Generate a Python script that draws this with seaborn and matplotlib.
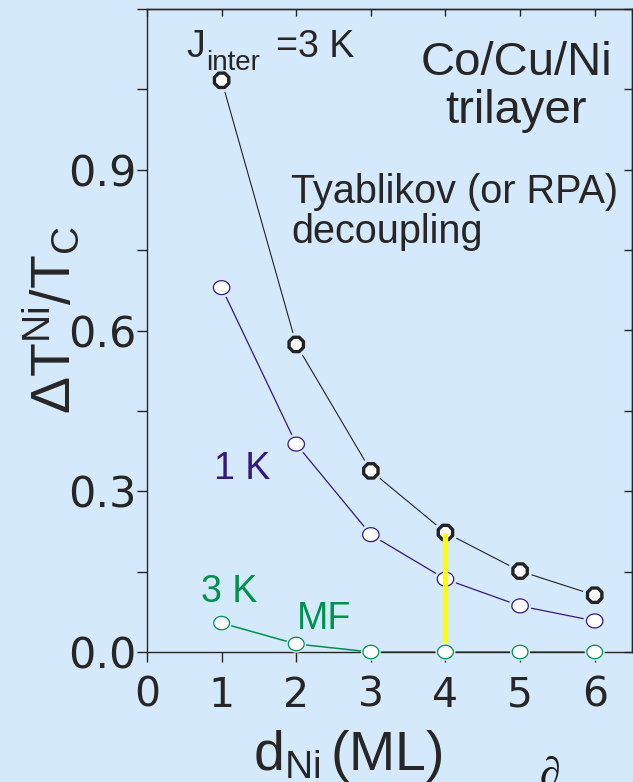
import numpy as np
import pandas as pd
import matplotlib
matplotlib.use("Agg")
import matplotlib.pyplot as plt
import matplotlib.patheffects as pe
from matplotlib.path import Path
import seaborn as sns

# Ni film thickness (monolayers)
d_ni = [1, 2, 3, 4, 5, 6]
# Relative shift of the Ni Curie temperature, Delta T^Ni / T_C
shift_rpa_3k = [1.067, 0.574, 0.338, 0.223, 0.151, 0.106]   # Tyablikov, J_inter = 3 K
shift_rpa_1k = [0.680, 0.388, 0.219, 0.136, 0.086, 0.058]   # Tyablikov, J_inter = 1 K
shift_mf_3k = [0.054, 0.015, 0.0, 0.0, 0.0, 0.0]            # mean field, J_inter = 3 K
series_names = ["RPA 3 K", "RPA 1 K", "MF 3 K"]
d_highlight = 4

x_ticks = [0, 1, 2, 3, 4, 5, 6]
x_tick_labels = ["0", "1", "2", "3", "4", "5", "6"]
y_ticks = [0.0, 0.15, 0.3, 0.45, 0.6, 0.75, 0.9, 1.05, 1.2]
y_tick_labels = ["0.0", "", "0.3", "", "0.6", "", "0.9", "", ""]

BG = "#d5e9fc"
INK = "#262626"
PURPLE = "#34187c"
GREEN = "#00914e"
YELLOW = "#ffff00"

sns.set_theme(style="ticks")
plt.rcParams["font.family"] = ["Liberation Sans", "DejaVu Sans"]
plt.rcParams.update({
    "mathtext.fontset": "custom",
    "mathtext.rm": "Liberation Sans",
    "mathtext.it": "Liberation Sans:italic",
    "mathtext.bf": "Liberation Sans:bold",
    "mathtext.sf": "Liberation Sans",
    "axes.edgecolor": INK,
    "axes.linewidth": 1.0,
})

W, H = 633, 782
L, R, B, T = 147, 632, 652, 9          # frame edges in pixels

fig = plt.figure(figsize=(W / 100, H / 100), dpi=100, facecolor=BG)
ax = fig.add_axes([L / W, (H - B) / H, (R - L) / W, (B - T) / H])
ax.set_facecolor(BG)


def frac(xp, yp):
    """Pixel position -> axes fraction."""
    return (xp - L) / (R - L), (B - yp) / (B - T)


df = pd.DataFrame({
    "d": d_ni * 3,
    "shift": shift_rpa_3k + shift_rpa_1k + shift_mf_3k,
    "series": np.repeat(series_names, len(d_ni)),
})

t = np.linspace(0, 2 * np.pi, 64)
ellipse = Path(np.column_stack([1.18 * np.cos(t), np.sin(t)]), closed=True)

styles = {
    "RPA 3 K": dict(color="#222222", lw=0.8, marker="8", s=125, mlw=2.4, gap=6.5, z=3),
    "RPA 1 K": dict(color=PURPLE, lw=0.9, marker=ellipse, s=140, mlw=0.9, gap=4.5, z=3),
    "MF 3 K": dict(color=GREEN, lw=1.1, marker=ellipse, s=130, mlw=0.9, gap=3.0, z=5),
}

for name in series_names:
    st = styles[name]
    sub = df[df["series"] == name]
    sns.lineplot(data=sub, x="d", y="shift", color=st["color"], lw=st["lw"],
                 errorbar=None, legend=False, ax=ax, zorder=2)
    sns.scatterplot(data=sub, x="d", y="shift", color=st["color"], marker=st["marker"],
                    s=st["s"], facecolor="white", edgecolor=st["color"],
                    linewidth=st["mlw"], legend=False, ax=ax, zorder=st["z"],
                    clip_on=False,
                    path_effects=[pe.withStroke(linewidth=st["gap"], foreground=BG)])

# highlighted thickness: bar up to the J_inter = 3 K value
bar_top = shift_rpa_3k[d_ni.index(d_highlight)]
ax.vlines(d_highlight, 0, bar_top, color=YELLOW, lw=3.8, zorder=4)

ax.set_xlim(0, 6.5)
ax.set_ylim(0, 1.2)
ax.set_xticks(x_ticks)
ax.set_xticklabels(x_tick_labels)
ax.set_yticks(y_ticks)
ax.set_yticklabels(y_tick_labels)
ax.tick_params(axis="both", direction="out", length=7.2, width=1.0, color=INK,
               labelcolor=INK, labelfontfamily="DejaVu Sans")
ax.tick_params(axis="x", pad=10, labelsize=29.5)
ax.tick_params(axis="y", pad=0.5, labelsize=31)
for sp in ax.spines.values():
    sp.set_visible(True)
    sp.set_color(INK)
    sp.set_linewidth(1.0)

top = ax.secondary_xaxis("top")
top.set_xticks(x_ticks)
top.tick_params(direction="in", length=5, width=1.0, color=INK, labeltop=False)
right = ax.secondary_yaxis("right")
right.set_yticks(y_ticks)
right.tick_params(direction="in", length=6, width=1.0, color=INK, labelright=False)

ax.set_xlabel(r"$\mathrm{d_{Ni}\,(ML)}$", fontsize=40, color=INK, ha="left", va="baseline")
ax.xaxis.set_label_coords(*frac(253, 770))
ax.set_ylabel(r"$\mathrm{\Delta T^{Ni}/T_C}$", fontsize=40, color=INK,
              rotation=90, rotation_mode="anchor", ha="center", va="baseline")
ax.yaxis.set_label_coords(*frac(70, 320))

txt = dict(transform=ax.transAxes, va="baseline")
# J_inter = 3 K, with the subscript set as its own smaller text
ax.text(*frac(186, 57), "J", fontsize=27, color=INK, ha="left", **txt)
ax.text(*frac(206, 70), "inter", fontsize=20, color=INK, ha="left", **txt)
ax.text(*frac(276, 57), "=3 K", fontsize=27, color=INK, ha="left", **txt)

ax.text(*frac(516, 75), "Co/Cu/Ni", fontsize=34, color=INK, ha="center", **txt)
ax.text(*frac(516, 123), "trilayer", fontsize=34, color=INK, ha="center", **txt)
ax.text(*frac(291, 203), "Tyablikov (or RPA)", fontsize=28.5, color=INK, ha="left", **txt)
ax.text(*frac(291, 243), "decoupling", fontsize=28.5, color=INK, ha="left", **txt)
ax.text(*frac(214, 479), "1 K", fontsize=27, color=PURPLE, ha="left", **txt)
ax.text(*frac(201, 602), "3 K", fontsize=27, color=GREEN, ha="left", **txt)
ax.text(*frac(297, 629), "MF", fontsize=27, color=GREEN, ha="left", **txt)

fig.text(540 / W, (H - 756) / H, "\u2202", fontsize=30, color="#1a1a1a",
         family=["Liberation Serif", "DejaVu Serif"], ha="left", va="top")

fig.savefig("out.png", dpi=100, facecolor=BG)
